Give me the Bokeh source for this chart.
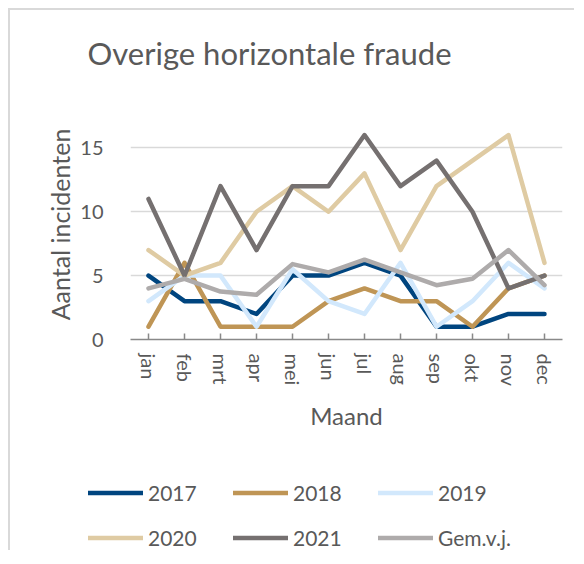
from bokeh.plotting import figure
from bokeh.models import Range1d, FactorRange, Legend, LegendItem, Title, FixedTicker
from bokeh.embed import file_html
from bokeh.resources import INLINE

months = ["jan", "feb", "mrt", "apr", "mei", "jun", "jul", "aug", "sep", "okt", "nov", "dec"]
y2017 = [5, 3, 3, 2, 5, 5, 6, 5, 1, 1, 2, 2]
y2018 = [1, 6, 1, 1, 1, 3, 4, 3, 3, 1, 4, 5]
y2019 = [3, 5, 5, 1, 5.5, 3, 2, 6, 1, 3, 6, 4]
y2020 = [7, 5, 6, 10, 12, 10, 13, 7, 12, 14, 16, 6]
y2021 = [11, 5, 12, 7, 12, 12, 16, 12, 14, 10, 4, 5]
gem = [4, 4.75, 3.75, 3.5, 5.9, 5.25, 6.25, 5.25, 4.25, 4.75, 7, 4.25]
yticks = [0, 5, 10, 15]

series_names = ["2017", "2018", "2019", "2020", "2021", "Gem.v.j."]
series_values = [y2017, y2018, y2019, y2020, y2021, gem]
colors = ["#00457F", "#BF9555", "#D2E8FC", "#DFCBA3", "#757070", "#AEABAB"]

FONT = "Lato"
TXT = "#595959"

# title panel
p0 = figure(width=566, height=99, output_backend="svg", toolbar_location=None,
            x_axis_type=None, y_axis_type=None,
            min_border_left=0, min_border_right=0, min_border_top=73, min_border_bottom=0)
p0.styles = {"margin-left": "8px", "margin-top": "8px",
             "border-left": "2px solid #d9d9d9", "border-top": "2px solid #d9d9d9"}
p0.outline_line_color = None
p0.grid.grid_line_color = None
t = Title(text="Overige horizontale fraude", align="left", offset=77, standoff=24,
          text_font=FONT, text_font_size="31px", text_font_style="normal", text_color=TXT)
p0.add_layout(t, "above")

# main chart
p = figure(width=566, height=333, x_range=FactorRange(*months, range_padding=0),
           y_range=Range1d(0, 18), output_backend="svg", toolbar_location=None,
           min_border_left=120, min_border_right=14, min_border_top=2, min_border_bottom=101)
p.styles = {"margin-left": "8px", "border-left": "2px solid #d9d9d9"}
p.outline_line_color = None
p.background_fill_color = "white"
p.border_fill_color = "white"

p.xgrid.grid_line_color = None
p.ygrid.grid_line_color = "#D9D9D9"
p.ygrid.grid_line_width = 1.5

p.yaxis.ticker = FixedTicker(ticks=yticks)
p.yaxis.axis_line_color = None
p.yaxis.major_tick_line_color = None
p.yaxis.minor_tick_line_color = None
p.yaxis.major_label_standoff = 21
p.yaxis.axis_label = "Aantal incidenten"
p.yaxis.axis_label_standoff = 2

p.xaxis.axis_line_color = "#898989"
p.xaxis.axis_line_width = 1.5
p.xaxis.major_tick_line_color = "#898989"
p.xaxis.major_tick_line_width = 1.5
p.xaxis.major_tick_in = 6
p.xaxis.major_tick_out = 0
p.xaxis.major_label_orientation = "vertical"
p.xaxis.major_label_standoff = 14
p.xaxis.axis_label = "Maand"
p.xaxis.axis_label_standoff = 12

for ax in (p.xaxis, p.yaxis):
    ax.major_label_text_font = FONT
    ax.major_label_text_color = TXT
    ax.axis_label_text_font = FONT
    ax.axis_label_text_color = TXT
    ax.axis_label_text_font_style = "normal"
p.xaxis.axis_label_text_font_size = "24px"
p.yaxis.axis_label_text_font_size = "25px"
p.yaxis.major_label_text_font_size = "20px"
p.xaxis.major_label_text_font_size = "20px"

for name, vals, c in zip(series_names, series_values, colors):
    p.line(months, vals, line_color=c, line_width=4.5, line_join="round", line_cap="round")

# legend panel: a separate figure whose view excludes the lines, showing only the legend
p2 = figure(width=566, height=110, x_range=FactorRange(*months), y_range=Range1d(100, 101),
            output_backend="svg", toolbar_location=None, x_axis_type=None, y_axis_type=None,
            min_border=0, min_border_left=0, min_border_right=0, min_border_top=0, min_border_bottom=0)
p2.styles = {"margin-left": "8px", "border-left": "2px solid #d9d9d9"}
p2.outline_line_color = None
p2.grid.grid_line_color = None
p2.border_fill_color = "white"

items = []
for name, vals, c in zip(series_names, series_values, colors):
    r = p2.line(months, vals, line_color=c, line_width=4.5, line_join="round", line_cap="round")
    items.append(LegendItem(label=name, renderers=[r]))

legend = Legend(items=items, orientation="horizontal", ncols=3, location=(78, 0),
                glyph_width=55, glyph_height=25, label_height=25, label_width=65,
                label_standoff=5, spacing=20, padding=0, margin=0,
                border_line_color=None, background_fill_alpha=0,
                label_text_font=FONT, label_text_font_size="21px", label_text_color=TXT)
p2.add_layout(legend, "center")

open("out.html", "w").write(file_html([p0, p, p2], INLINE))
